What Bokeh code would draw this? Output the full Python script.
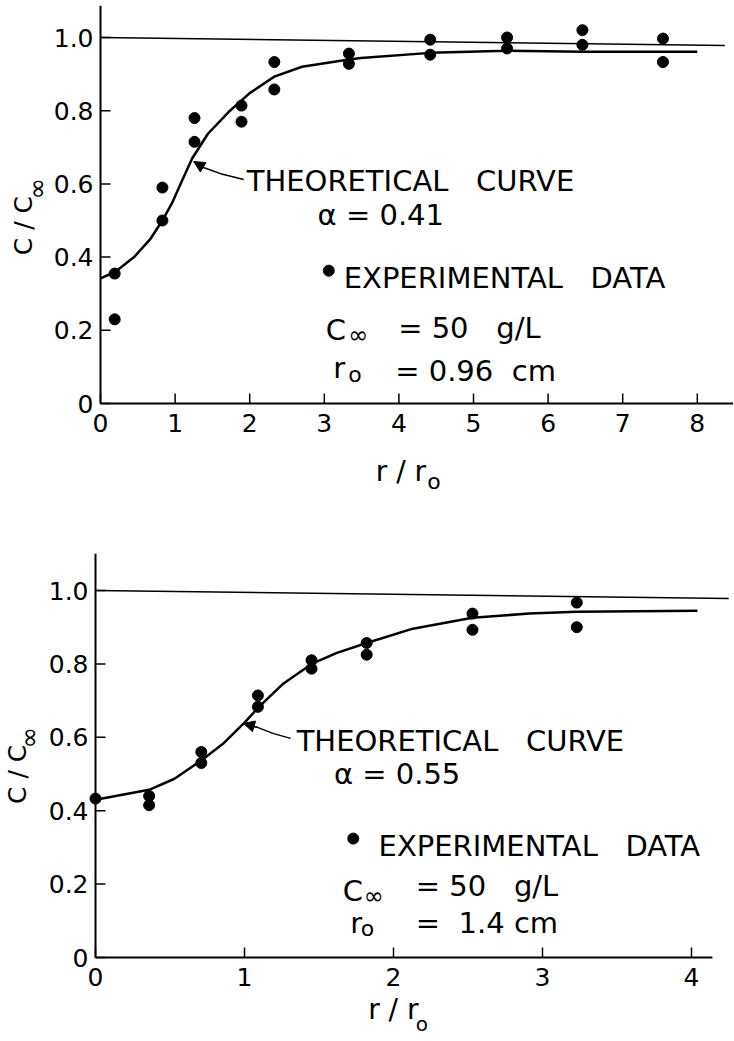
import math

from bokeh.core.properties import value
from bokeh.embed import file_html
from bokeh.layouts import column
from bokeh.models import Arrow, Label, NormalHead
from bokeh.plotting import figure
from bokeh.resources import INLINE

FONT = "DejaVu Sans"
INK = "black"
NB = "\u00a0"  # non-breaking space keeps the wide lettering gaps in SVG text

# ---- Panel A: r0 = 0.96 cm, alpha = 0.41 ----
a_exp_x = [0.19, 0.19, 0.83, 0.83, 1.26, 1.26, 1.89, 1.89, 2.33, 2.33,
           3.33, 3.33, 4.42, 4.42, 5.45, 5.45, 6.46, 6.46, 7.54, 7.54]
a_exp_y = [0.355, 0.23, 0.59, 0.50, 0.78, 0.715, 0.814, 0.77, 0.933, 0.858,
           0.956, 0.928, 0.994, 0.953, 1.0, 0.97, 1.02, 0.98, 0.997, 0.933]
a_curve_x = [0.0, 0.2, 0.45, 0.67, 0.83, 0.96, 1.1, 1.23, 1.44, 1.72, 2.0,
             2.33, 2.7, 3.33, 3.49, 4.42, 5.45, 6.46, 8.0]
a_curve_y = [0.342, 0.36, 0.40, 0.45, 0.50, 0.548, 0.612, 0.67, 0.737, 0.797,
             0.848, 0.893, 0.92, 0.94, 0.944, 0.958, 0.964, 0.961, 0.961]
a_unity_x = [0.0, 8.37]
a_unity_y = [1.0, 0.978]
a_xticks = [0, 1, 2, 3, 4, 5, 6, 7, 8]
a_xtick_text = ["0", "1", "2", "3", "4", "5", "6", "7", "8"]

# ---- Panel B: r0 = 1.4 cm, alpha = 0.55 ----
b_exp_x = [0.0, 0.36, 0.36, 0.71, 0.71, 1.09, 1.09, 1.45, 1.45, 1.82, 1.82,
           2.53, 2.53, 3.23, 3.23]
b_exp_y = [0.433, 0.44, 0.415, 0.56, 0.53, 0.714, 0.683, 0.81, 0.787, 0.857,
           0.825, 0.937, 0.893, 0.967, 0.90]
b_curve_x = [0.0, 0.36, 0.53, 0.71, 0.86, 1.0, 1.09, 1.26, 1.45, 1.62, 1.82,
             2.13, 2.53, 2.91, 3.23, 4.04]
b_curve_y = [0.43, 0.457, 0.487, 0.537, 0.584, 0.64, 0.68, 0.746, 0.80, 0.83,
             0.857, 0.896, 0.926, 0.937, 0.942, 0.945]
b_unity_x = [0.0, 4.25]
b_unity_y = [1.0, 0.978]
b_xticks = [0, 1, 2, 3, 4]
b_xtick_text = ["0", "1", "2", "3", "4"]

y_ticks = [0, 0.2, 0.4, 0.6, 0.8, 1.0]
y_tick_text = ["0", "0.2", "0.4", "0.6", "0.8", "1.0"]

WIDTH = 734


class Panel:
    """A figure whose frame fills the canvas; axes are drawn as glyphs."""

    def __init__(self, height, ox, oy, sx, sy):
        self.sx, self.sy = sx, sy
        self.p = figure(width=WIDTH, height=height,
                        x_range=(-ox / sx, (WIDTH - ox) / sx),
                        y_range=((oy - height) / sy, oy / sy),
                        output_backend="svg", toolbar_location=None, title=None,
                        x_axis_location=None, y_axis_location=None,
                        min_border=0)
        p = self.p
        p.grid.visible = False
        p.outline_line_color = None
        p.background_fill_color = "white"
        p.border_fill_color = "white"

    def axes(self, x_end, y_end, xticks, xtick_text):
        p, sx, sy = self.p, self.sx, self.sy
        p.line([0, x_end], [0, 0], line_color=INK, line_width=2)
        p.line([0, 0], [0, y_end], line_color=INK, line_width=2)
        # inward ticks, 10 px long
        p.segment(x0=xticks, y0=[0] * len(xticks), x1=xticks,
                  y1=[10 / sy] * len(xticks), line_color=INK, line_width=1.5)
        p.segment(x0=[0] * len(y_ticks), y0=y_ticks, x1=[10 / sx] * len(y_ticks),
                  y1=y_ticks, line_color=INK, line_width=1.5)
        p.text(x=xticks, y=[-10 / sy] * len(xticks), text=xtick_text,
               text_font=value(FONT), text_font_size=value("25px"),
               text_color=INK, text_align="center", text_baseline="top")
        p.text(x=[-7 / sx] * len(y_ticks), y=y_ticks, text=y_tick_text,
               text_font=value(FONT), text_font_size=value("25px"),
               text_color=INK, text_align="right", text_baseline="middle")

    def text(self, x, y, s, size="29px", align="left", angle=0.0):
        self.p.add_layout(Label(x=x, y=y, text=s, text_font=FONT,
                                text_font_size=size, text_color=INK,
                                text_align=align, text_baseline="middle",
                                angle=angle))

    def pointer(self, xs, ys):
        self.p.line(xs, ys, line_color=INK, line_width=1.5)
        self.p.add_layout(Arrow(end=NormalHead(size=11, fill_color=INK, line_color=INK),
                                x_start=xs[-2], y_start=ys[-2],
                                x_end=xs[-1], y_end=ys[-1],
                                line_color=INK, line_width=1.5))

    def y_title(self, x, y, xs, ys):
        self.text(x, y, "C / C", size="25px", align="center", angle=math.pi / 2)
        self.text(xs, ys, "∞", size="26px", align="center", angle=math.pi / 2)


# ---------- top panel ----------
A = Panel(520, ox=100, oy=403, sx=74.6, sy=366)
top = A.p
A.axes(8.48, 1.087, a_xticks, a_xtick_text)
top.line(a_unity_x, a_unity_y, line_color=INK, line_width=1.5)
top.line(a_curve_x, a_curve_y, line_color=INK, line_width=2.5)
top.scatter(a_exp_x, a_exp_y, size=11, color=INK)

A.pointer([1.92, 1.61, 1.38, 1.25], [0.612, 0.628, 0.645, 0.661])
A.text(1.96, 0.609, f"THEORETICAL{NB*3}CURVE")
A.text(2.91, 0.514, "α = 0.41")
top.scatter([3.06], [0.363], size=11, color=INK)
A.text(3.26, 0.344, f"EXPERIMENTAL{NB*3}DATA")
A.text(3.02, 0.202, "C")
A.text(3.32, 0.186, "∞", size="24px")
A.text(3.99, 0.205, f"= 50{NB*3}g/L")
A.text(3.12, 0.096, "r")
A.text(3.32, 0.079, "o", size="22px")
A.text(3.95, 0.09, f"= 0.96{NB*2}cm")

A.text(3.69, -0.186, "r / r", size="28px")
A.text(4.38, -0.213, "o", size="22px")
A.y_title(-1.032, 0.486, -0.845, 0.587)

# ---------- bottom panel ----------
B = Panel(521, ox=95, oy=437, sx=149, sy=367)
bot = B.p
B.axes(4.14, 1.1, b_xticks, b_xtick_text)
bot.line(b_unity_x, b_unity_y, line_color=INK, line_width=1.5)
bot.line(b_curve_x, b_curve_y, line_color=INK, line_width=2.5)
bot.scatter(b_exp_x, b_exp_y, size=11, color=INK)

B.pointer([1.31, 1.195, 1.087, 0.993], [0.597, 0.610, 0.627, 0.638])
B.text(1.35, 0.591, f"THEORETICAL{NB*3}CURVE")
B.text(1.60, 0.501, "α = 0.55")
bot.scatter([1.73], [0.324], size=11, color=INK)
B.text(1.90, 0.305, f"EXPERIMENTAL{NB*3}DATA")
B.text(1.66, 0.18, "C")
B.text(1.80, 0.168, "∞", size="24px")
B.text(2.15, 0.195, f"= 50{NB*3}g/L")
B.text(1.71, 0.093, "r")
B.text(1.78, 0.079, "o", size="22px")
B.text(2.15, 0.093, f"={NB*2}1.4{NB}cm")

B.text(1.83, -0.142, "r / r", size="28px")
B.text(2.15, -0.181, "o", size="20px")
B.y_title(-0.523, 0.499, -0.443, 0.599)

layout = column(top, bot)
open("out.html", "w").write(file_html(layout, INLINE))
